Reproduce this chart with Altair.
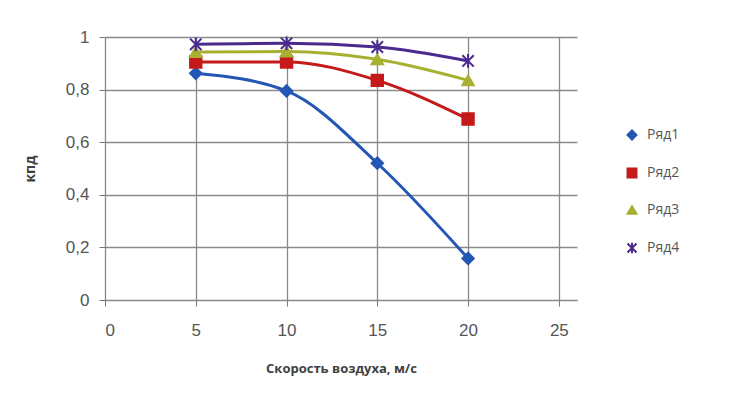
import altair as alt
import pandas as pd

speeds = [5, 10, 15, 20]
series_names = ["Ряд1", "Ряд2", "Ряд3", "Ряд4"]
s1 = [0.862, 0.795, 0.52, 0.158]
s2 = [0.905, 0.905, 0.835, 0.688]
s3 = [0.943, 0.945, 0.915, 0.835]
s4 = [0.972, 0.976, 0.962, 0.909]
colors = ["#2456B4", "#C41A1A", "#A8B032", "#4A2A8E"]
shapes = ["diamond", "square", "triangle-up", "M-1,-1L1,1M-1,1L1,-1M0,-1.2L0,1.2"]

rows = []
for name, vals in zip(series_names, [s1, s2, s3, s4]):
    for x, v in zip(speeds, vals):
        rows.append({"x": x, "y": v, "series": name})
df = pd.DataFrame(rows)

color_scale = alt.Scale(domain=series_names, range=colors)
shape_scale = alt.Scale(domain=series_names, range=shapes)

xenc = alt.X("x:Q", scale=alt.Scale(domain=[0, 25]),
             axis=alt.Axis(values=[0, 5, 10, 15, 20, 25], title="Скорость воздуха, м/с",
                           titleFontSize=13, titleFontWeight="bold", titleColor="#404040",
                           titlePadding=24, labelFontSize=17, labelColor="#555555",
                           labelPadding=16, tickSize=6, tickColor="#777777",
                           domainColor="#888888", gridColor="#8a8a8a", gridWidth=1.3))
yenc = alt.Y("y:Q", scale=alt.Scale(domain=[0, 1]),
             axis=alt.Axis(values=[0, 0.2, 0.4, 0.6, 0.8, 1], title="кпд", format="~g",
                           labelExpr="replace(datum.label, '.', ',')",
                           titleFontSize=14, titleFontWeight="bold", titleColor="#404040",
                           titlePadding=28, labelFontSize=17, labelColor="#555555",
                           labelPadding=10, tickSize=6, tickColor="#777777",
                           domainColor="#888888", gridColor="#8a8a8a", gridWidth=1.3))

legend = alt.Legend(title=None, orient="none", legendX=520, legendY=91,
                    labelFontSize=14, labelColor="#555555", rowPadding=20,
                    symbolSize=80, symbolStrokeWidth=2, labelFont="Open Sans",
                    labelOffset=8)

lines = alt.Chart(df).mark_line(interpolate="monotone", strokeWidth=3).encode(
    x=xenc, y=yenc,
    color=alt.Color("series:N", scale=color_scale, legend=legend),
    detail="series:N",
)
points = alt.Chart(df).mark_point(size=130, opacity=1, strokeWidth=2, filled=True).encode(
    x="x:Q", y="y:Q",
    color=alt.Color("series:N", scale=color_scale, legend=legend),
    stroke=alt.Stroke("series:N", scale=color_scale, legend=None),
    shape=alt.Shape("series:N", scale=shape_scale, legend=legend),
)

chart = (lines + points).properties(
    width=472, height=263,
    autosize=alt.AutoSizeParams(type="none"),
    padding={"left": 97, "top": 29, "right": 145, "bottom": 86},
).configure_view(stroke=None).configure_axis(labelFont="Liberation Sans", titleFont="Open Sans")

chart.save("out.html", embed_options={"renderer": "svg", "actions": False})
